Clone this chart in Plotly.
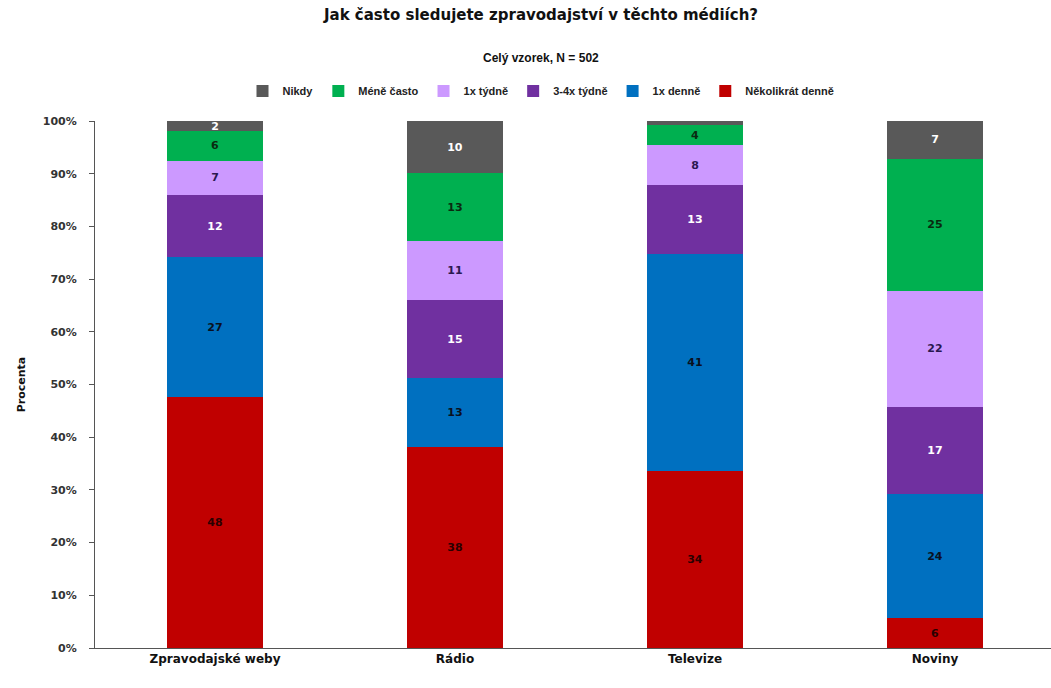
import plotly.graph_objects as go

# Media categories on the x axis
media = ["Zpravodajské weby", "Rádio", "Televize", "Noviny"]

# Share of respondents (%) per frequency answer, one list per answer
nekolikrat_denne = [47.6, 38.1, 33.6, 5.6]
denne_1x = [26.6, 13.1, 41.2, 23.6]
tydne_3_4x = [11.7, 14.8, 13.0, 16.6]
tydne_1x = [6.6, 11.2, 7.6, 22.0]
mene_casto = [5.6, 12.9, 3.8, 25.0]
nikdy = [1.9, 9.9, 0.8, 7.2]

y_ticks = [0, 10, 20, 30, 40, 50, 60, 70, 80, 90, 100]

series = [
    ("Několikrát denně", nekolikrat_denne, "#C00000", "#2a0000"),
    ("1x denně", denne_1x, "#0070C0", "#0a1020"),
    ("3-4x týdně", tydne_3_4x, "#7030A0", "#ffffff"),
    ("1x týdně", tydne_1x, "#CC99FF", "#2a1850"),
    ("Méně často", mene_casto, "#00B050", "#0a2a10"),
    ("Nikdy", nikdy, "#595959", "#ffffff"),
]

FONT = "DejaVu Sans"
LFONT = "Liberation Sans"
W, H = 1051, 688
PLOT_LEFT, PLOT_TOP, PLOT_BOTTOM = 95, 121, 648
PLOT_H = PLOT_BOTTOM - PLOT_TOP
CENTER_X = 541 / W

fig = go.Figure()
for name, vals, color, txtcolor in series:
    labels = [f"{v:.0f}" if v >= 1.5 else "" for v in vals]
    fig.add_trace(go.Bar(
        x=media,
        y=vals,
        name=name,
        marker=dict(color=color, line=dict(width=0)),
        text=labels,
        textposition="inside",
        insidetextanchor="middle",
        textangle=0,
        constraintext="none",
        textfont=dict(family=FONT, size=11, color=txtcolor, weight="bold"),
        width=0.4,
        hoverinfo="name+y",
    ))

fig.update_layout(
    barmode="stack",
    width=W,
    height=H,
    paper_bgcolor="white",
    plot_bgcolor="white",
    margin=dict(l=PLOT_LEFT, r=0, t=PLOT_TOP, b=H - PLOT_BOTTOM),
    font=dict(family=FONT, color="#222222"),
    title=dict(
        text="Jak často sledujete zpravodajství v těchto médiích?",
        x=CENTER_X, xanchor="center", xref="container",
        y=1 - 15 / H, yanchor="middle", yref="container",
        font=dict(family=FONT, size=15, color="#111111", weight="bold"),
    ),
    legend=dict(
        orientation="h",
        traceorder="reversed",
        x=CENTER_X, xanchor="center", xref="container",
        y=1 - 91 / H, yanchor="middle", yref="container",
        font=dict(family=LFONT, size=11, color="#222222", weight="bold"),
        itemwidth=30,
        bgcolor="rgba(0,0,0,0)",
    ),
    showlegend=True,
    annotations=[
        dict(
            text="Celý vzorek, N = 502",
            x=(541 - PLOT_LEFT) / (W - PLOT_LEFT), xref="paper", xanchor="center",
            y=(PLOT_BOTTOM - 58) / PLOT_H, yref="paper", yanchor="middle",
            showarrow=False,
            font=dict(family=LFONT, size=12, color="#111111", weight="bold"),
        )
    ],
)

fig.update_xaxes(
    range=[-0.5, -0.5 + (W - PLOT_LEFT) / 240],
    showline=True, linecolor="#555555", linewidth=1,
    ticks="", showgrid=False,
    tickfont=dict(family=FONT, size=12, color="#111111", weight="bold"),
)
fig.update_yaxes(
    range=[0, 100],
    tickvals=y_ticks,
    ticktext=[f"{t}%" for t in y_ticks],
    showline=True, linecolor="#555555", linewidth=1,
    ticks="outside", ticklen=5, tickcolor="#555555",
    ticklabelstandoff=10,
    showgrid=False, zeroline=False,
    tickfont=dict(family=FONT, size=11, color="#333333", weight="bold"),
    title=dict(text="Procenta", standoff=14,
               font=dict(family=FONT, size=11, color="#111111", weight="bold")),
)

fig.write_html("out.html")
